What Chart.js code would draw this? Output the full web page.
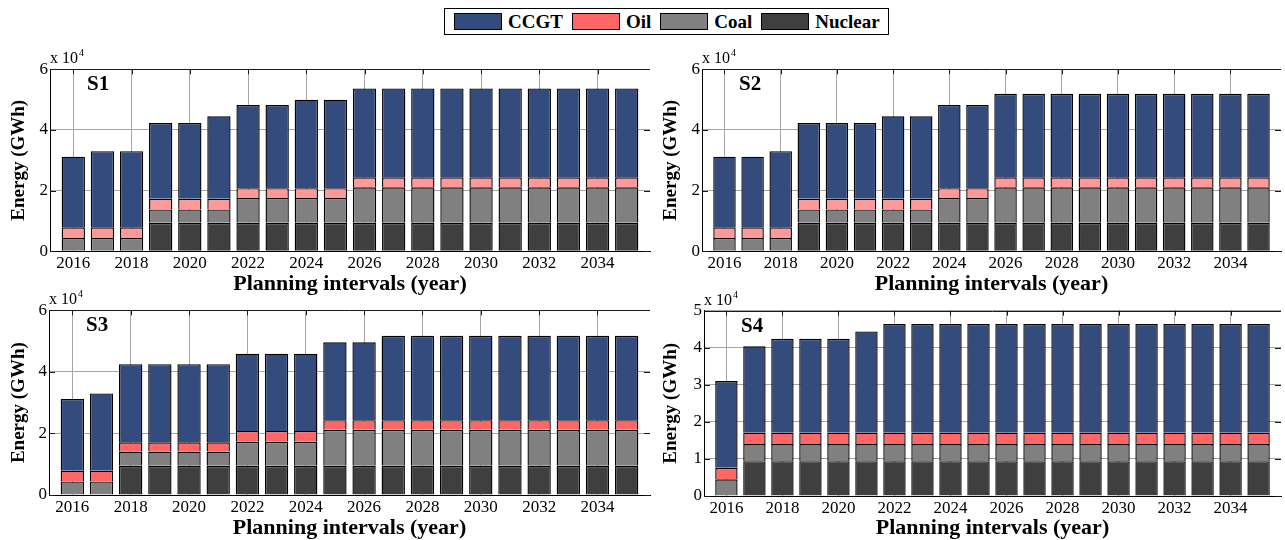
<!DOCTYPE html>
<html>
<head>
<meta charset="utf-8">
<script src="https://cdn.jsdelivr.net/npm/chart.js@4"></script>
<style>
  html, body { margin: 0; padding: 0; background: #fff; }
  body { width: 1285px; height: 540px; position: relative; overflow: hidden; font-family: "Liberation Serif", "Times New Roman", serif; }
  canvas { position: absolute; }
  #legend { position: absolute; left: 444px; top: 8px; width: 445px; height: 27px; box-sizing: border-box;
            border: 1px solid #000; display: flex; align-items: center; background: #fff; }
  #legend .sw { width: 46px; height: 15px; border: 1px solid #000; margin-left: 9px; }
  #legend .lb { margin-left: 6px; font: bold 19px "Liberation Serif", serif; color: #000; }
</style>
</head>
<body>
<div id="legend">
  <span class="sw" style="background:#344b7d"></span><span class="lb">CCGT</span>
  <span class="sw" style="background:#ff6666"></span><span class="lb">Oil</span>
  <span class="sw" style="background:#808080"></span><span class="lb">Coal</span>
  <span class="sw" style="background:#3f3f3f"></span><span class="lb">Nuclear</span>
</div>
<canvas id="c1" width="655" height="260" style="left:0px;top:40px"></canvas>
<canvas id="c2" width="633" height="260" style="left:652px;top:40px"></canvas>
<canvas id="c3" width="655" height="255" style="left:0px;top:285px"></canvas>
<canvas id="c4" width="633" height="255" style="left:652px;top:285px"></canvas>
<script>
// planning years and labelled ticks
const years = [2016, 2017, 2018, 2019, 2020, 2021, 2022, 2023, 2024, 2025,
               2026, 2027, 2028, 2029, 2030, 2031, 2032, 2033, 2034, 2035];
const tickYears = [2016, 2018, 2020, 2022, 2024, 2026, 2028, 2030, 2032, 2034];

// energy per technology (GWh), scenario S1
const s1Nuclear = [0, 0, 0, 9400, 9400, 9400, 9400, 9400, 9400, 9400, 9400, 9400, 9400, 9400, 9400, 9400, 9400, 9400, 9400, 9400];
const s1Coal = [4400, 4400, 4400, 4400, 4400, 4400, 8200, 8200, 8200, 8200, 11700, 11700, 11700, 11700, 11700, 11700, 11700, 11700, 11700, 11700];
const s1Oil = [3500, 3500, 3500, 3500, 3500, 3500, 3200, 3200, 3200, 3200, 3300, 3300, 3300, 3300, 3300, 3300, 3300, 3300, 3300, 3300];
const s1Ccgt = [23300, 25100, 25100, 25000, 25000, 27200, 27400, 27400, 29200, 29200, 29300, 29300, 29300, 29300, 29300, 29300, 29300, 29300, 29300, 29300];

// scenario S2
const s2Nuclear = [0, 0, 0, 9400, 9400, 9400, 9400, 9400, 9400, 9400, 9400, 9400, 9400, 9400, 9400, 9400, 9400, 9400, 9400, 9400];
const s2Coal = [4400, 4400, 4400, 4400, 4400, 4400, 4400, 4400, 8200, 8200, 11700, 11700, 11700, 11700, 11700, 11700, 11700, 11700, 11700, 11700];
const s2Oil = [3500, 3500, 3500, 3500, 3500, 3500, 3500, 3500, 3200, 3200, 3300, 3300, 3300, 3300, 3300, 3300, 3300, 3300, 3300, 3300];
const s2Ccgt = [23300, 23300, 25100, 25000, 25000, 25000, 27200, 27200, 27400, 27400, 27500, 27500, 27500, 27500, 27500, 27500, 27500, 27500, 27500, 27500];

// scenario S3
const s3Nuclear = [0, 0, 9500, 9500, 9500, 9500, 9500, 9500, 9500, 9500, 9500, 9500, 9500, 9500, 9500, 9500, 9500, 9500, 9500, 9500];
const s3Coal = [4400, 4400, 4600, 4600, 4600, 4600, 7800, 7800, 7800, 11700, 11700, 11700, 11700, 11700, 11700, 11700, 11700, 11700, 11700, 11700];
const s3Oil = [3500, 3500, 3000, 3000, 3000, 3000, 3500, 3500, 3500, 3100, 3100, 3100, 3100, 3100, 3100, 3100, 3100, 3100, 3100, 3100];
const s3Ccgt = [23300, 25100, 25400, 25400, 25400, 25400, 25100, 25100, 25100, 25300, 25300, 27400, 27400, 27400, 27400, 27400, 27400, 27400, 27400, 27400];

// scenario S4
const s4Nuclear = [0, 9400, 9400, 9400, 9400, 9400, 9400, 9400, 9400, 9400, 9400, 9400, 9400, 9400, 9400, 9400, 9400, 9400, 9400, 9400];
const s4Coal = [4500, 4600, 4600, 4600, 4600, 4600, 4600, 4600, 4600, 4600, 4600, 4600, 4600, 4600, 4600, 4600, 4600, 4600, 4600, 4600];
const s4Oil = [3100, 3100, 3100, 3100, 3100, 3100, 3100, 3100, 3100, 3100, 3100, 3100, 3100, 3100, 3100, 3100, 3100, 3100, 3100, 3100];
const s4Ccgt = [23400, 23300, 25300, 25300, 25300, 27300, 29300, 29300, 29300, 29300, 29300, 29300, 29300, 29300, 29300, 29300, 29300, 29300, 29300, 29300];

const ccgtColor = "#344b7d";
const oilColor = "#ff6666";
const oilLight = "#ff9999";
const coalColor = "#808080";
const nuclearColor = "#3f3f3f";
const serif = '"Liberation Serif", "Times New Roman", serif';

Chart.defaults.font.family = serif;
Chart.defaults.color = "#000";

// box top line, inward ticks, scenario tag and the x 10^4 factor
const frameDecor = {
  id: "frameDecor",
  afterDatasetsDraw(chart, args, opts) {
    const { ctx, chartArea: a, scales: { x, y } } = chart;
    ctx.save();
    ctx.strokeStyle = "#1a1a1a";
    ctx.lineWidth = 1;
    ctx.beginPath();
    ctx.moveTo(a.left, Math.round(a.top) + 0.5);
    ctx.lineTo(a.right, Math.round(a.top) + 0.5);
    x.ticks.forEach((t) => {
      const px = Math.round(x.getPixelForValue(t.value)) + 0.5;
      ctx.moveTo(px, a.top);
      ctx.lineTo(px, a.top + 5);
    });
    y.ticks.forEach((t) => {
      const py = Math.round(y.getPixelForValue(t.value)) + 0.5;
      ctx.moveTo(a.left, py);
      ctx.lineTo(a.left + 6, py);
      ctx.moveTo(a.right, py);
      ctx.lineTo(a.right - 6, py);
    });
    ctx.stroke();

    ctx.fillStyle = "#000";
    ctx.textBaseline = "alphabetic";
    ctx.textAlign = "left";
    ctx.font = "bold 21px " + serif;
    ctx.fillText(opts.tag, a.left + 37, a.top + 21);
    ctx.font = "16px " + serif;
    ctx.fillText("x 10", a.left, a.top - 6);
    const w = ctx.measureText("x 10").width;
    ctx.font = "10px " + serif;
    ctx.fillText("4", a.left + w + 1, a.top - 13);
    ctx.restore();
  }
};

const panels = [
  { id: "c1", tag: "S1", nuclear: s1Nuclear, coal: s1Coal, oil: s1Oil, ccgt: s1Ccgt, oilFill: oilLight,
    yMax: 60000, yStep: 20000, yAxisWidth: 50, padTop: 29.3, padRight: 5, xAxisHeight: 48.7, xTitlePad: 2 },
  { id: "c2", tag: "S2", nuclear: s2Nuclear, coal: s2Coal, oil: s2Oil, ccgt: s2Ccgt, oilFill: oilLight,
    yMax: 60000, yStep: 20000, yAxisWidth: 50, padTop: 29.3, padRight: 4, xAxisHeight: 48.7, xTitlePad: 2 },
  { id: "c3", tag: "S3", nuclear: s3Nuclear, coal: s3Coal, oil: s3Oil, ccgt: s3Ccgt, oilFill: oilColor,
    yMax: 60000, yStep: 20000, yAxisWidth: 49, padTop: 25.3, padRight: 5, xAxisHeight: 45, xTitlePad: -1.5 },
  { id: "c4", tag: "S4", nuclear: s4Nuclear, coal: s4Coal, oil: s4Oil, ccgt: s4Ccgt, oilFill: oilColor,
    yMax: 50000, yStep: 10000, yAxisWidth: 52, padTop: 25.7, padRight: 4, xAxisHeight: 44, xTitlePad: -1.5 }
];

const toPoints = (vals) => years.map((yr, i) => ({ x: yr, y: vals[i] }));

const barSet = (label, vals, color) => ({
  label: label,
  data: toPoints(vals),
  backgroundColor: color,
  borderColor: "#000",
  borderWidth: 1.4,
  inflateAmount: 0,
  categoryPercentage: 0.8,
  barPercentage: 1.0
});

panels.forEach((p) => {
  const ctx = document.getElementById(p.id).getContext("2d");
  new Chart(ctx, {
    type: "bar",
    data: {
      datasets: [
        barSet("Nuclear", p.nuclear, nuclearColor),
        barSet("Coal", p.coal, coalColor),
        barSet("Oil", p.oil, p.oilFill),
        barSet("CCGT", p.ccgt, ccgtColor)
      ]
    },
    options: {
      responsive: false,
      animation: false,
      layout: { padding: { top: p.padTop, right: p.padRight, left: 0, bottom: 0 } },
      plugins: {
        legend: { display: false },
        tooltip: { enabled: false },
        frameDecor: { tag: p.tag }
      },
      scales: {
        x: {
          type: "linear",
          stacked: true,
          offset: false,
          min: 2015.2,
          max: 2035.8,
          afterBuildTicks: (scale) => {
            scale.ticks = tickYears.map((v) => ({ value: v }));
          },
          afterFit: (scale) => { scale.height = p.xAxisHeight; },
          ticks: {
            autoSkip: false,
            maxRotation: 0,
            padding: 2,
            font: { size: 17 },
            callback: (v) => String(v)
          },
          grid: { color: "#a6a6a6", lineWidth: 1, drawTicks: false, offset: false },
          border: { display: true, color: "#000", width: 1 },
          title: {
            display: true,
            text: "Planning intervals (year)",
            font: { size: 22, weight: "bold" },
            padding: { top: 0, bottom: p.xTitlePad }
          }
        },
        y: {
          stacked: true,
          min: 0,
          max: p.yMax,
          afterFit: (scale) => { scale.width = p.yAxisWidth; },
          ticks: {
            stepSize: p.yStep,
            padding: 2,
            font: { size: 17 },
            callback: (v) => String(v / 10000)
          },
          grid: { color: "#a6a6a6", lineWidth: 1, drawTicks: false },
          border: { display: true, color: "#000", width: 1 },
          title: {
            display: true,
            text: "Energy (GWh)",
            font: { size: 19, weight: "bold" },
            padding: { top: 8, bottom: 0 }
          }
        }
      }
    },
    plugins: [frameDecor]
  });
});
</script>
</body>
</html>
